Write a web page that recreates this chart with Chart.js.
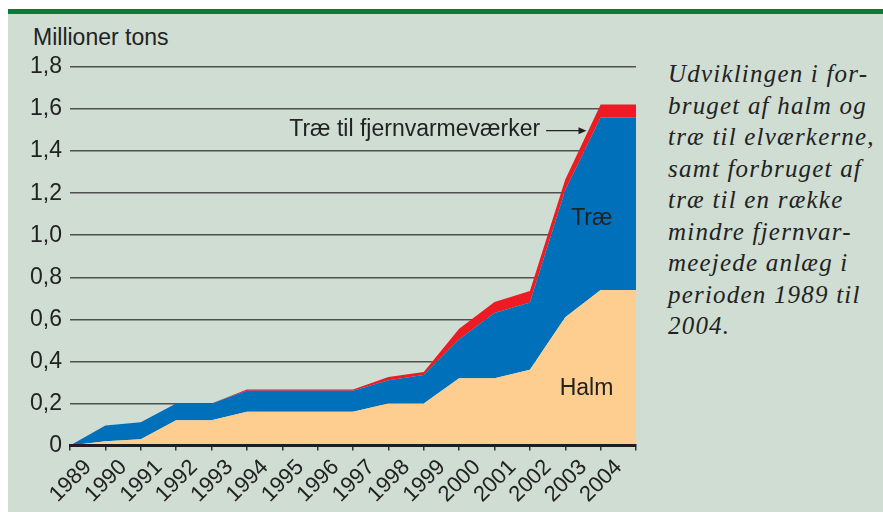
<!DOCTYPE html>
<html>
<head>
<meta charset="utf-8">
<script src="https://cdn.jsdelivr.net/npm/chart.js@4.4.1/dist/chart.umd.min.js"></script>
<style>
  body { margin: 0; background: #ffffff; width: 883px; height: 512px; overflow: hidden; position: relative; font-family: "Liberation Sans", Arial, sans-serif; }
  #panel { position: absolute; left: 8px; top: 9px; width: 875px; height: 503px; background: #cfddd3; }
  #greenbar { position: absolute; left: 8px; top: 9px; width: 875px; height: 5px; background: #0b7b3a; }
  #unit { position: absolute; left: 33px; top: 24px; font-size: 23px; color: #222; }
  #caption { position: absolute; left: 668px; top: 58px; font-family: "Liberation Serif", "Times New Roman", serif; font-style: italic; font-size: 25px; letter-spacing: 1.2px; line-height: 31.5px; color: #222; white-space: pre; }
  #myChart { position: absolute; left: 0; top: 0; }
</style>
</head>
<body>
<div id="panel"></div>
<div id="greenbar"></div>
<div id="unit">Millioner tons</div>
<div id="caption">Udviklingen i for-
bruget af halm og
træ til elværkerne,
samt forbruget af
træ til en række
mindre fjernvar-
meejede anlæg i
perioden 1989 til
2004.</div>
<canvas id="myChart" width="660" height="512"></canvas>
<script>
// Data (millioner tons), one value per year boundary
const years = ["1989", "1990", "1991", "1992", "1993", "1994", "1995", "1996",
  "1997", "1998", "1999", "2000", "2001", "2002", "2003", "2004"];
const halm = [0, 0.02, 0.03, 0.12, 0.12, 0.16, 0.16, 0.16, 0.16, 0.2, 0.2, 0.32, 0.32, 0.36, 0.61, 0.74, 0.74];
const trae = [0, 0.075, 0.08, 0.08, 0.08, 0.1, 0.1, 0.1, 0.1, 0.11, 0.135, 0.185, 0.31, 0.32, 0.605, 0.82, 0.82];
const fjernvarme = [0, 0, 0, 0, 0, 0.006, 0.006, 0.006, 0.006, 0.016, 0.014, 0.05, 0.053, 0.055, 0.05, 0.062, 0.062];
const yTicks = [0, 0.2, 0.4, 0.6, 0.8, 1.0, 1.2, 1.4, 1.6, 1.8];

const ctx = document.getElementById('myChart');

// text labels inside the plot
const labelsPlugin = {
  id: 'areaLabels',
  afterDatasetsDraw(chart) {
    const c = chart.ctx;
    const x = chart.scales.x;
    const y = chart.scales.y;
    c.save();
    c.fillStyle = '#222';
    c.font = '23px "Liberation Sans", Arial, sans-serif';
    c.textBaseline = 'middle';
    c.textAlign = 'center';
    c.fillText('Træ', x.getPixelForValue(14.75), y.getPixelForValue(1.08));
    c.fillText('Halm', x.getPixelForValue(14.6), y.getPixelForValue(0.27));
    c.textAlign = 'right';
    c.fillText('Træ til fjernvarmeværker', x.getPixelForValue(13.29), y.getPixelForValue(1.5));

    // arrow
    const ax1 = x.getPixelForValue(13.46);
    const ax2 = x.getPixelForValue(14.6);
    const ay = y.getPixelForValue(1.497);
    c.strokeStyle = '#222';
    c.lineWidth = 1.3;
    c.beginPath();
    c.moveTo(ax1, ay);
    c.lineTo(ax2 - 6, ay);
    c.stroke();
    c.beginPath();
    c.moveTo(ax2, ay);
    c.lineTo(ax2 - 8, ay - 3.5);
    c.lineTo(ax2 - 8, ay + 3.5);
    c.closePath();
    c.fill();
    c.restore();
  }
};

new Chart(ctx, {
  type: 'line',
  data: {
    labels: [...years, ''],
    datasets: [
      { label: 'Halm', data: halm, backgroundColor: '#fdce8f', fill: 'origin', borderWidth: 0, pointRadius: 0 },
      { label: 'Træ', data: trae, backgroundColor: '#0070ba', fill: '-1', borderWidth: 0, pointRadius: 0 },
      { label: 'Træ til fjernvarmeværker', data: fjernvarme, backgroundColor: '#ed1c24', fill: '-1', borderWidth: 0, pointRadius: 0 }
    ]
  },
  options: {
    responsive: false,
    animation: false,
    layout: { padding: { left: 0, top: 67, right: 24, bottom: 0 } },
    plugins: { legend: { display: false }, tooltip: { enabled: false } },
    elements: { line: { tension: 0 } },
    scales: {
      x: {
        offset: false,
        grid: { drawOnChartArea: false, drawTicks: true, tickLength: 5, color: '#333', lineWidth: 1.5 },
        border: { display: true, color: '#1e1e1e', width: 3, z: 1 },
        ticks: {
          autoSkip: false, minRotation: 45, maxRotation: 45, labelOffset: 18, padding: 4,
          color: '#222', font: { size: 22, family: '"Liberation Sans", Arial, sans-serif' }
        },
        afterFit(scale) { scale.height = 66.5; }
      },
      y: {
        stacked: true,
        min: 0, max: 1.8,
        afterBuildTicks(scale) { scale.ticks = yTicks.map(v => ({ value: v })); },
        grid: { drawTicks: false, color: '#505050', lineWidth: 1.5 },
        border: { display: false },
        ticks: {
          padding: 8, color: '#222',
          font: { size: 23, family: '"Liberation Sans", Arial, sans-serif' },
          callback: v => v === 0 ? '0' : v.toFixed(1).replace('.', ',')
        },
        afterFit(scale) { scale.width = 70; }
      }
    }
  },
  plugins: [labelsPlugin]
});
</script>
</body>
</html>
